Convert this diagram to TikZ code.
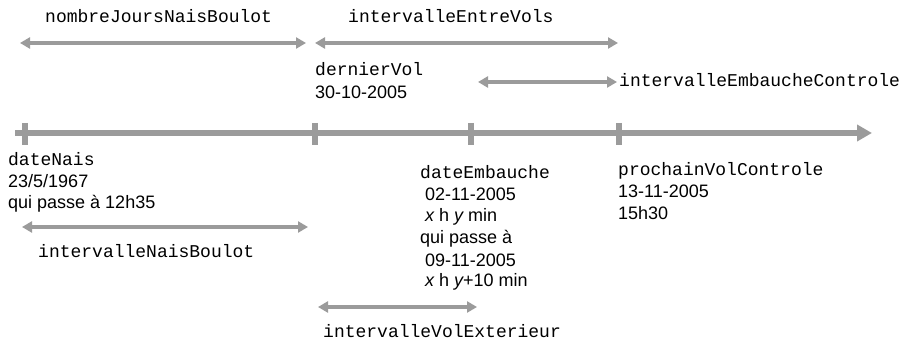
\documentclass[tikz,border=0pt]{standalone}
\usepackage{fontspec}
\setmainfont{Liberation Sans}
\setmonofont{Liberation Mono}
\usetikzlibrary{arrows.meta}
\definecolor{lg}{RGB}{155,155,155}
\begin{document}
\begin{tikzpicture}[x=1pt,y=-1pt,
  txt/.style={inner sep=0pt, anchor=base west, font=\fontsize{18}{21.6}\selectfont},
  mono/.style={inner sep=0pt, anchor=base west, font=\fontsize{18}{21.6}\selectfont\ttfamily},
  axisline/.style={draw=lg, line width=5.5pt, -{Triangle[width=16pt,length=15pt]}},
  tickmark/.style={draw=lg, line width=6pt},
  span/.style={draw=lg, line width=4pt, {Triangle[width=11pt,length=10pt]}-{Triangle[width=11pt,length=10pt]}}]
\useasboundingbox (0,0) rectangle (900,339);

% timeline
\coordinate (t0) at (15,133);
\coordinate (t1) at (872,133);
\draw[axisline] (t0) -- (t1);
\foreach \x/\n in {25/a,315/b,471/c,619/d}{
  \coordinate (tk\n top) at (\x,123);
  \coordinate (tk\n bot) at (\x,145);
  \draw[tickmark] (tk\n top) -- (tk\n bot);
}

% top spans
\coordinate (nj1) at (20,43);  \coordinate (nj2) at (306,43);
\draw[span] (nj1) -- (nj2);
\node[mono] (lnj) at (45,23) {nombreJoursNaisBoulot};

\coordinate (ev1) at (315,43); \coordinate (ev2) at (618,43);
\draw[span] (ev1) -- (ev2);
\node[mono] (lev) at (348,23) {intervalleEntreVols};

\coordinate (ec1) at (478,82); \coordinate (ec2) at (617,82);
\draw[span] (ec1) -- (ec2);
\node[mono] (lec) at (619,87) {intervalleEmbaucheControle};

% dernierVol
\node[mono] (dv1) at (315,76) {dernierVol};
\node[txt]  (dv2) at (315,99) {30-10-2005};

% dateNais
\node[mono] (dn1) at (8,166) {dateNais};
\node[txt]  (dn2) at (8,188) {23/5/1967};
\node[txt]  (dn3) at (8,209) {qui passe à 12h35};

\coordinate (nb1) at (22,227); \coordinate (nb2) at (308,227);
\draw[span] (nb1) -- (nb2);
\node[mono] (lnb) at (38,258) {intervalleNaisBoulot};

% dateEmbauche
\node[mono] (de1) at (420,179) {dateEmbauche};
\node[txt]  (de2) at (425,201) {02-11-2005};
\node[txt]  (de3) at (425,222) {{\itshape x} h {\itshape y} min};
\node[txt]  (de4) at (420,244) {qui passe à};
\node[txt]  (de5) at (425,266) {09-11-2005};
\node[txt]  (de6) at (425,287) {{\itshape x} h {\itshape y}+10 min};

\coordinate (ve1) at (318,307); \coordinate (ve2) at (477,307);
\draw[span] (ve1) -- (ve2);
\node[mono] (lve) at (323,337) {intervalleVolExterieur};

% prochainVolControle
\node[mono] (pv1) at (618,176) {prochainVolControle};
\node[txt]  (pv2) at (618,198) {13-11-2005};
\node[txt]  (pv3) at (618,220) {15h30};
\end{tikzpicture}
\end{document}
